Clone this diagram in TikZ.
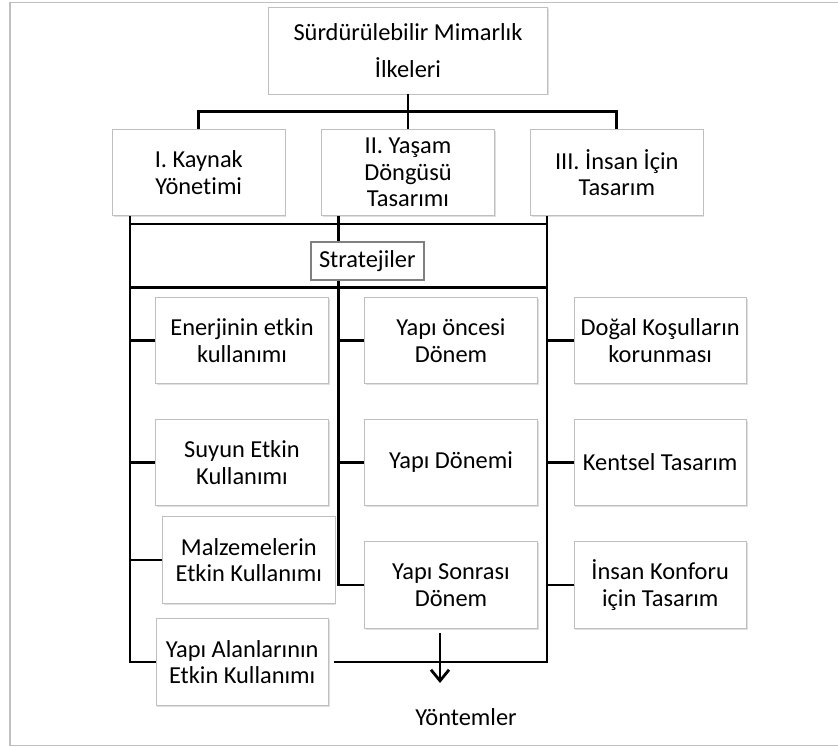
\documentclass[tikz,border=0pt]{standalone}
\usepackage{fontspec}
\setmainfont{Carlito}[Ligatures=NoCommon]
\usetikzlibrary{arrows.meta, calc, positioning, shadows}
\tikzstyle{card} = [rectangle, draw=black!25, fill=white, text centered, align=center, inner sep=0pt, minimum width=86.2pt, minimum height=43.3pt, font=\fontsize{12.2}{13.3}\selectfont, drop shadow={shadow xshift=0.7pt, shadow yshift=-0.7pt, opacity=0.25}]
\tikzstyle{bus} = [line width=1.4pt]
\tikzstyle{arrow} = [line width=1.4pt, -{Straight Barb[length=5.5pt, width=9pt]}]

\begin{document}
\begin{tikzpicture}[x=0.5pt, y=-0.5pt]
    \useasboundingbox (0,0) rectangle (838,747);
    % Frame
    \draw[black!25, line width=0.8pt] (850,2.5) -| (10,745.5) -- (850,745.5);

    % Principles
    \node[card, minimum width=139.5pt, font=\fontsize{12.2}{18.5}\selectfont] (top) at (408,50.7) {Sürdürülebilir Mimarlık\\İlkeleri};
    \node[card] (p1) at (198.8,172.5) {I. Kaynak\\Yönetimi};
    \node[card] (p2) at (408,172.5) {II. Yaşam\\Döngüsü\\Tasarımı};
    \node[card] (p3) at (616.8,172.5) {III. İnsan İçin\\Tasarım};

    % Strategies
    \node[card, draw=black!50, line width=1pt, minimum width=56.5pt, minimum height=19pt] (strat) at (367.3,261) {Stratejiler};

    % Resource management
    \node[card] (e1) at (242,340.5) {Enerjinin etkin\\kullanımı};
    \node[card] (e2) at (242,462.5) {Suyun Etkin\\Kullanımı};
    \node[card] (e3) at (248.8,560) {Malzemelerin\\Etkin Kullanımı};
    \node[card] (e4) at (242.2,662) {Yapı Alanlarının\\Etkin Kullanımı};

    % Life cycle
    \node[card] (y1) at (451,340.5) {Yapı öncesi\\Dönem};
    \node[card] (y2) at (451,462.5) {Yapı Dönemi};
    \node[card] (y3) at (451,585) {Yapı Sonrası\\Dönem};

    % Design for people
    \node[card] (h1) at (660.2,340.5) {Doğal Koşulların\\korunması};
    \node[card] (h2) at (660.2,462.5) {Kentsel Tasarım};
    \node[card] (h3) at (660.2,585) {İnsan Konforu\\için Tasarım};

    \node[font=\fontsize{12.2}{13.3}\selectfont] (meth) at (466,717) {Yöntemler};

    % Top tree
    \coordinate (hub) at (408,111.7);
    \draw[bus] (top.south) -- (hub);
    \draw[bus] (p1.north) |- (hub) -| (p3.north);
    \draw[bus] (hub) -- (p2.north);

    % Spines
    \coordinate (busL) at (130,662);
    \coordinate (busM) at (338.5,585);
    \coordinate (busR) at (547,662);
    \coordinate (s1) at (130,224);
    \coordinate (s2) at (130,287.3);
    \draw[bus] (p1.south -| busL) -- (busL) -- (e4.west);
    \draw[bus] (s1) -- (s1 -| busR);
    \draw[bus] (s2) -- (s2 -| busR);
    \draw[bus] (p2.south -| busM) -- (strat.north -| busM);
    \draw[bus] (strat.south -| busM) -- (busM) -- (y3.west);
    \draw[bus] (p3.south -| busR) -- (busR) -- ([xshift=2.7pt]e4.east |- busR);

    % Branches
    \foreach \n in {e1,e2,e3} \draw[bus] (\n.west -| busL) -- (\n.west);
    \foreach \n in {y1,y2} \draw[bus] (\n.west -| busM) -- (\n.west);
    \foreach \n in {h1,h2,h3} \draw[bus] (\n.west -| busR) -- (\n.west);

    % Methods
    \coordinate (out) at (440,683);
    \draw[arrow] ([yshift=-2.2pt]y3.south -| out) -- (out);
\end{tikzpicture}
\end{document}
